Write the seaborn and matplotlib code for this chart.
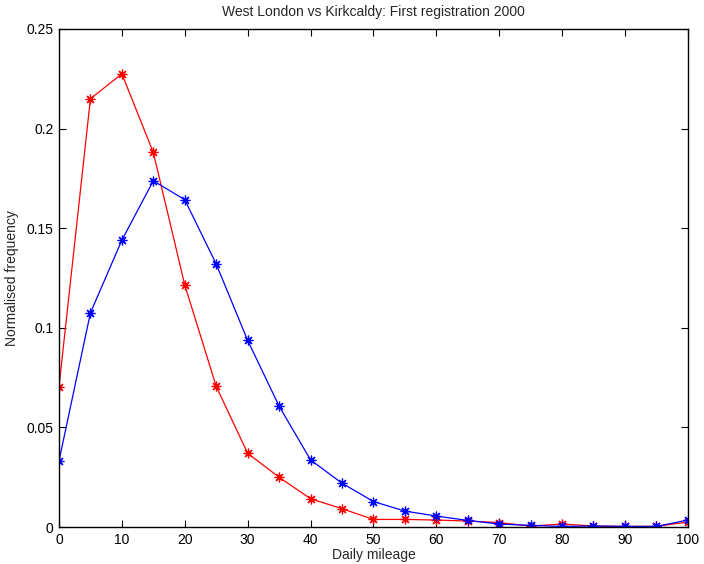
import numpy as np
import pandas as pd
import matplotlib
matplotlib.use("Agg")
import matplotlib.pyplot as plt
import seaborn as sns

# Daily mileage bins and normalised frequencies per region
mileage = [0, 5, 10, 15, 20, 25, 30, 35, 40, 45, 50, 55, 60, 65, 70, 75, 80, 85, 90, 95, 100]
kirkcaldy = [0.0704, 0.215, 0.2275, 0.188, 0.1215, 0.0706, 0.0370, 0.0250, 0.0142, 0.0092,
             0.0038, 0.0038, 0.0035, 0.0030, 0.0022, 0.0005, 0.0015, 0.0005, 0.0003, 0.0003, 0.0025]
west_london = [0.0332, 0.1075, 0.1440, 0.1738, 0.1643, 0.1320, 0.0937, 0.0607, 0.0337, 0.0220,
               0.0128, 0.0080, 0.0055, 0.0033, 0.0015, 0.0008, 0.0003, 0.0005, 0.0003, 0.0003, 0.0035]

x_ticks = list(range(0, 101, 10))
y_ticks = [0, 0.05, 0.1, 0.15, 0.2, 0.25]
y_tick_labels = ["0", "0.05", "0.1", "0.15", "0.2", "0.25"]

sns.set_theme(style="white")
plt.rcParams["font.family"] = ["Liberation Sans", "DejaVu Sans"]

df = pd.DataFrame({"mileage": mileage, "Kirkcaldy": kirkcaldy, "West London": west_london})

fig = plt.figure(figsize=(7.04, 5.64), dpi=100)
ax = fig.add_axes([0.0838, 0.0656, 0.8932, 0.883])

asterisk = (8, 2, 0)
sns.lineplot(data=df, x="mileage", y="Kirkcaldy", color="#ff0000", marker=asterisk,
             markersize=7, markeredgewidth=0.9, markeredgecolor="#ff0000", linewidth=0.9, ax=ax)
sns.lineplot(data=df, x="mileage", y="West London", color="#0000ff", marker=asterisk,
             markersize=7, markeredgewidth=0.9, markeredgecolor="#0000ff", linewidth=0.9, ax=ax)

ax.set_xlim(0, 100)
ax.set_ylim(0, 0.25)
ax.set_xticks(x_ticks)
ax.set_yticks(y_ticks)
ax.set_yticklabels(y_tick_labels)
ax.tick_params(direction="in", length=5, width=0.8, labelsize=10, colors="black",
               top=True, right=True, bottom=True, left=True, pad=4)
for s in ax.spines.values():
    s.set_visible(True)
    s.set_color("black")
    s.set_linewidth(1.0)

ax.set_xlabel("Daily mileage", fontsize=10, labelpad=1)
ax.set_ylabel("Normalised frequency", fontsize=10, labelpad=5)
ax.set_title("West London vs Kirkcaldy: First registration 2000", fontsize=10, pad=9)

fig.savefig("out.png", dpi=100, facecolor="white")
